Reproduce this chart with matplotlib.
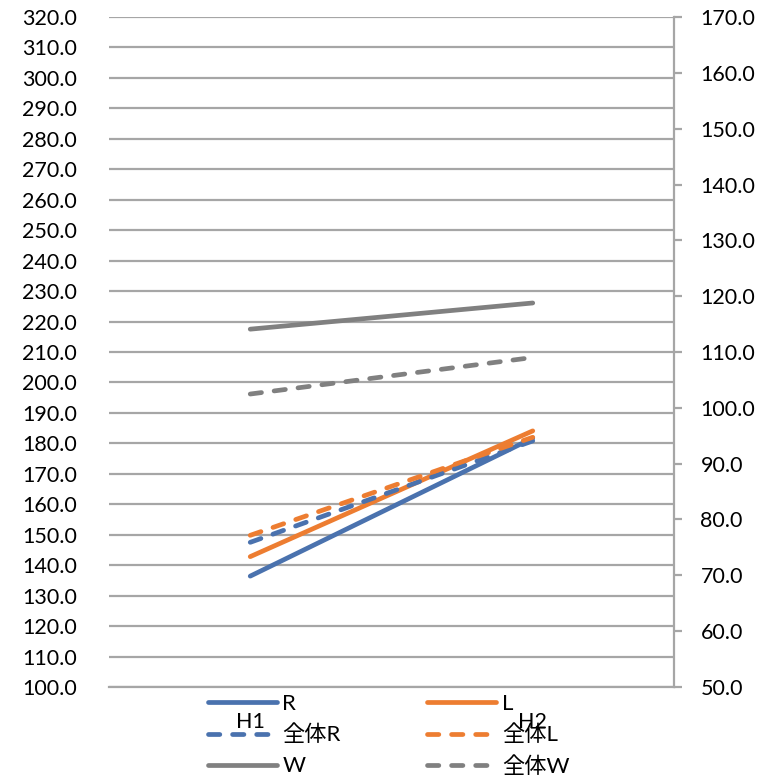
import matplotlib
matplotlib.use("Agg")
import matplotlib.pyplot as plt

plt.rcParams['font.family'] = ['Lato', 'Noto Sans CJK JP', 'DejaVu Sans']

# Data
categories = ["H1", "H2"]
r_vals = [136.4, 181.7]
l_vals = [142.8, 184.1]
all_r_vals = [147.5, 180.8]
all_l_vals = [149.8, 182.0]
w_vals = [217.5, 226.1]
all_w_vals = [196.2, 208.2]

left_ticks = list(range(100, 321, 10))
right_ticks = list(range(50, 171, 10))

BLUE = "#4a72ae"
ORANGE = "#ed7d31"
GRAY = "#808080"
GRID = "#a6a6a6"
FS = 15.5

fig = plt.figure(figsize=(7.74, 7.78), dpi=100)
ax = fig.add_axes([0.1408, 0.1170, 0.7300, 0.8611])
ax2 = ax.twinx()

x = list(range(len(categories)))
lw = 3.4
dash = dict(dashes=(2.4, 2.7), dash_capstyle='round')
solid = dict(solid_capstyle='round')

h_r, = ax.plot(x, r_vals, color=BLUE, lw=lw, **solid)
h_l, = ax.plot(x, l_vals, color=ORANGE, lw=lw, **solid)
h_ar, = ax.plot(x, all_r_vals, color=BLUE, lw=lw, **dash)
h_al, = ax.plot(x, all_l_vals, color=ORANGE, lw=lw, **dash)
h_w, = ax.plot(x, w_vals, color=GRAY, lw=lw, **solid)
h_aw, = ax.plot(x, all_w_vals, color=GRAY, lw=lw, **dash)

ax.set_xlim(-0.5, 1.5)
ax.set_ylim(100, 320)
ax.set_yticks(left_ticks)
ax.set_yticklabels([f"{v:.1f}" for v in left_ticks], fontsize=FS)
ax.set_xticks(x)
ax.set_xticklabels(categories, fontsize=FS)
ax.tick_params(axis='y', length=0, pad=23)
ax.tick_params(axis='x', length=0, pad=18)
ax.grid(axis='y', color=GRID, lw=1.6)
ax.set_axisbelow(True)
for s in ['left', 'top', 'right']:
    ax.spines[s].set_visible(False)
ax.spines['bottom'].set_color(GRID)
ax.spines['bottom'].set_linewidth(1.6)

ax2.set_ylim(50, 170)
ax2.set_yticks(right_ticks)
ax2.set_yticklabels([f"{v:.1f}" for v in right_ticks], fontsize=FS)
ax2.tick_params(axis='y', length=6, width=1.6, color=GRID, pad=13, direction='out')
for s in ['left', 'top', 'bottom']:
    ax2.spines[s].set_visible(False)
ax2.spines['right'].set_color(GRID)
ax2.spines['right'].set_linewidth(1.6)

handles = [h_r, h_ar, h_w, h_l, h_al, h_aw]
labels = ["R", "全体R", "W", "L", "全体L", "全体W"]
leg = fig.legend(handles, labels, ncol=2, loc='upper left',
                 bbox_to_anchor=(0.257, 0.120), frameon=False,
                 fontsize=16, handlelength=3.1, handletextpad=0.25,
                 columnspacing=3.9, labelspacing=0.5, borderaxespad=0)

fig.savefig("out.png", dpi=100)
